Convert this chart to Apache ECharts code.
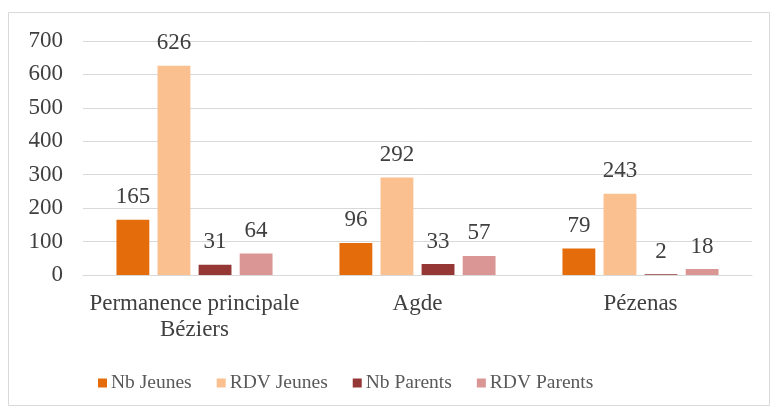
<!DOCTYPE html>
<html><head><meta charset="utf-8">
<script src="https://cdn.jsdelivr.net/npm/echarts@6/dist/echarts.min.js"></script>
<style>html,body{margin:0;padding:0;background:#fff}#c{width:779px;height:410px}</style>
</head><body><div id="c"></div>
<script>
const categories = ['Permanence principale\nBéziers', 'Agde', 'Pézenas'];
const nbJeunes = [165, 96, 79];
const rdvJeunes = [626, 292, 243];
const nbParents = [31, 33, 2];
const rdvParents = [64, 57, 18];
const seriesNames = ['Nb Jeunes', 'RDV Jeunes', 'Nb Parents', 'RDV Parents'];
const colors = ['#E46C0A', '#FAC090', '#953735', '#D99694'];
const yTicks = [0, 100, 200, 300, 400, 500, 600, 700];

const font = 'Liberation Serif, Times New Roman, serif';
const chart = echarts.init(document.getElementById('c'));
const data = [nbJeunes, rdvJeunes, nbParents, rdvParents];
chart.setOption({
  animation: false,
  graphic: [{type:'rect', shape:{x:8.5,y:12.5,width:761,height:393}, style:{fill:'none', stroke:'#d9d9d9', lineWidth:1}}],
  grid: {left: 83, right: 27, top: 41, bottom: 135},
  legend: {
    bottom: 12, left: 93, itemWidth: 9, itemHeight: 9, itemGap: 25,
    icon: 'rect',
    textStyle: {fontFamily: font, fontSize: 19.5, color: '#595959', padding: [0,0,0,-1]},
    data: seriesNames
  },
  xAxis: {
    type: 'category', data: categories,
    axisTick: {show: false},
    axisLine: {lineStyle: {color: '#d9d9d9', width: 1}},
    axisLabel: {interval: 0, fontFamily: font, fontSize: 23, color: '#404040', margin: 16, lineHeight: 26}
  },
  yAxis: {
    type: 'value', min: yTicks[0], max: yTicks[yTicks.length-1], interval: 100,
    axisLine: {show: false}, axisTick: {show: false},
    splitLine: {lineStyle: {color: '#d9d9d9', width: 1}},
    axisLabel: {fontFamily: font, fontSize: 23, color: '#404040', margin: 20}
  },
  series: seriesNames.map((n, i) => ({
    name: n, type: 'bar', data: data[i],
    barGap: '25%', barCategoryGap: '30%',
    itemStyle: {color: colors[i]},
    label: {show: true, position: 'top', distance: 11, fontFamily: font, fontSize: 23, color: '#404040'}
  }))
});
</script></body></html>
